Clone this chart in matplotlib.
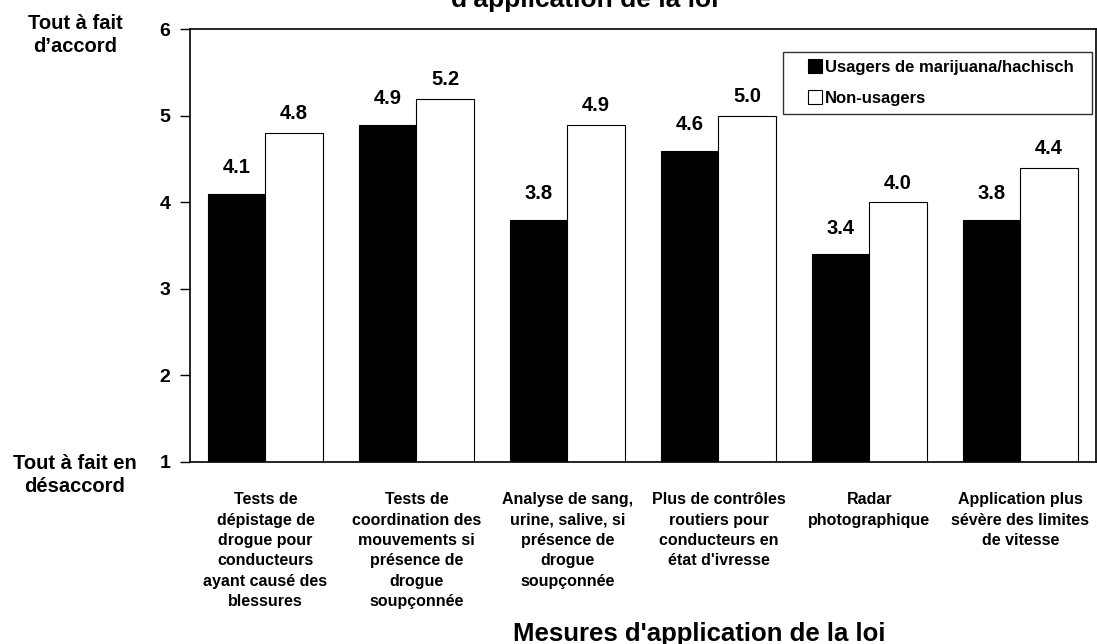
import numpy as np
import matplotlib
matplotlib.use('Agg')
import matplotlib.pyplot as plt
from matplotlib.lines import Line2D

plt.rcParams['font.family'] = 'Liberation Sans'
plt.rcParams['font.weight'] = 'bold'

# Données
categories = ["Tests de\ndépistage de\ndrogue pour\nconducteurs\nayant causé des\nblessures",
              "Tests de\ncoordination des\nmouvements si\nprésence de\ndrogue\nsoupçonnée",
              "Analyse de sang,\nurine, salive, si\nprésence de\ndrogue\nsoupçonnée",
              "Plus de contrôles\nroutiers pour\nconducteurs en\nétat d'ivresse",
              "Radar\nphotographique",
              "Application plus\nsévère des limites\nde vitesse"]
usagers = [4.1, 4.9, 3.8, 4.6, 3.4, 3.8]
non_usagers = [4.8, 5.2, 4.9, 5.0, 4.0, 4.4]
yticks = [1, 2, 3, 4, 5, 6]
series = ['Usagers de marijuana/hachisch', 'Non-usagers']

fig = plt.figure(figsize=(10.97, 6.44), dpi=100)
ax = fig.add_axes([0.1732, 0.2831, 0.8258, 0.6711])

x = np.arange(len(categories))
w = 0.38
ax.bar(x - w/2, np.array(usagers) - 1, w, bottom=1, color='black', edgecolor='black', linewidth=0.8)
ax.bar(x + w/2, np.array(non_usagers) - 1, w, bottom=1, color='white', edgecolor='black', linewidth=0.8)

#etiquettes des valeurs
for xi, v in zip(x, usagers):
    ax.annotate(f"{v:.1f}", (xi - w/2, v), xytext=(0, 12), textcoords='offset points',
                ha='center', va='bottom', fontsize=14.5, fontweight='bold')
for xi, v in zip(x, non_usagers):
    ax.annotate(f"{v:.1f}", (xi + w/2, v), xytext=(0, 7), textcoords='offset points',
                ha='center', va='bottom', fontsize=14.5, fontweight='bold')

ax.set_xlim(-0.5, len(categories) - 0.5)
ax.set_ylim(1, 6)
ax.set_yticks(yticks)
ax.tick_params(axis='y', direction='out', length=7.2, width=1, pad=7, labelsize=14)
ax.set_xticks(x)
ax.set_xticklabels(categories, fontsize=11.5, fontweight='bold', linespacing=1.45)
ax.tick_params(axis='x', length=0, pad=22)
for s in ax.spines.values():
    s.set_linewidth(1.2)

# legende
handles = [Line2D([], [], ls='none', marker='s', markersize=10, markerfacecolor='black',
                  markeredgecolor='black', markeredgewidth=0.8),
           Line2D([], [], ls='none', marker='s', markersize=10, markerfacecolor='white',
                  markeredgecolor='black', markeredgewidth=0.8)]
leg = ax.legend(handles, series, loc='upper left', bbox_to_anchor=(0.6545, 0.807, 0.341, 0.141),
                mode='expand', fontsize=12, frameon=True, fancybox=False, edgecolor='black',
                handlelength=2.8, handletextpad=-0.8, numpoints=1,
                labelspacing=0.95, borderpad=0.5, borderaxespad=0)
leg.get_frame().set_linewidth(1)
for t in leg.get_texts():
    t.set_fontweight('bold')

# textes des extremes de l'echelle
fig.text(75/1097, 1 - 35/644, "Tout à fait\nd’accord", ha='center', va='center',
         fontsize=14.5, fontweight='bold', linespacing=1.3)
fig.text(75/1097, 1 - 475/644, "Tout à fait en\ndésaccord", ha='center', va='center',
         fontsize=14.5, fontweight='bold', linespacing=1.3)

fig.text(585/1097, 1 - 7/644, "d'application de la loi", ha='center', va='baseline',
         fontsize=19, fontweight='bold')
fig.text(699/1097, 1 - 641/644, "Mesures d'application de la loi", ha='center', va='baseline',
         fontsize=18.5, fontweight='bold')

fig.savefig('out.png', dpi=100)
